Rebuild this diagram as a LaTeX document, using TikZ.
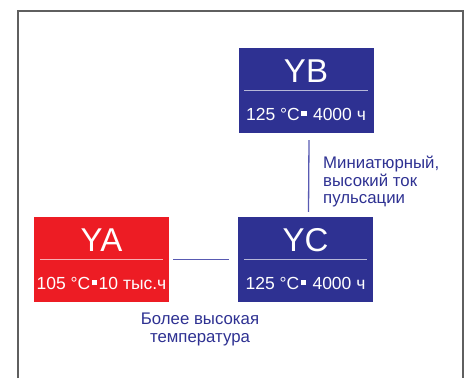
\documentclass[tikz,border=0pt]{standalone}
\usepackage{fontspec}
\setmainfont{Liberation Sans}
\usetikzlibrary{positioning, calc}
\definecolor{ybblue}{RGB}{46,49,146}
\definecolor{yared}{RGB}{237,28,36}
\definecolor{linkblue}{RGB}{88,90,178}
\definecolor{framegray}{RGB}{95,95,95}
\newcommand{\sqdot}{\hspace{0.08em}\rule[0.22em]{0.32em}{0.32em}\hspace{0.08em}}

\begin{document}
\begin{tikzpicture}[x=1pt, y=-1pt, every node/.style={inner sep=0pt},
    series/.style={minimum width=135pt, minimum height=85pt, draw=none},
    title/.style={font=\fontsize{33}{33}\selectfont, text=white, anchor=base},
    spec/.style={font=\fontsize{17.5}{17.5}\selectfont, text=white, anchor=base},
    sep/.style={white, opacity=0.65, line width=1.5pt},
    link/.style={linkblue, line width=1.3pt},
    note/.style={font=\fontsize{16.8}{17.5}\selectfont, text=ybblue}]
    \useasboundingbox (0,0) rectangle (470,378);
    % frame
    \draw[framegray, line width=1.2pt] (18,378) -- (18,11) -- (463,11) -- (463,378);
    \draw[framegray, line width=2pt] (463,11) -- (463,378);
    % series boxes
    \foreach \n/\x/\y/\c/\t/\s in {ya/101.5/259.5/yared/YA/{105 °C\sqdot10 тыс.ч},
                                   yb/306/90.5/ybblue/YB/{125 °C\sqdot\ 4000 ч},
                                   yc/305.5/259.5/ybblue/YC/{125 °C\sqdot\ 4000 ч}} {
        \node[series, fill=\c] (\n) at (\x,\y) {};
        \draw[sep] ([xshift=6pt]\n.west) -- ([xshift=-6pt]\n.east);
        \node[title] at ([yshift=8.5pt]\n.center) {\t};
        \node[spec] at ([yshift=-29.5pt]\n.center) {\s};
    }
    % connectors
    \draw[link] ([xshift=4pt]ya.east) -- ([xshift=-9pt]yc.west);
    \draw[link] ([xshift=3pt,yshift=-7pt]yb.south) -- ([xshift=3pt,yshift=5pt]yc.north);
    % notes
    \node[note, align=left, anchor=north west] (pulse) at (323,156) {Миниатюрный,\\высокий ток\\пульсации};
    \node[note, align=center, anchor=north] (temp) at (200,313) {Более высокая\\температура};
\end{tikzpicture}
\end{document}
